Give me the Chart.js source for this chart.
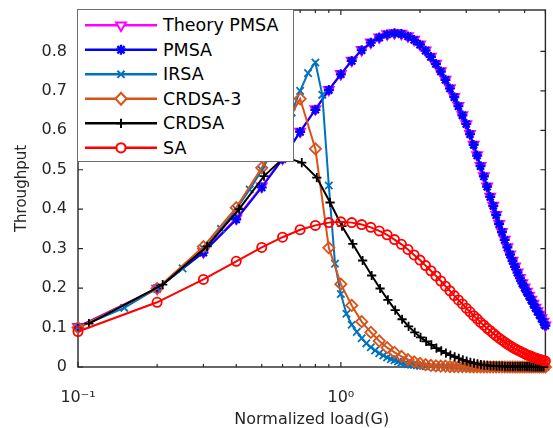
<!DOCTYPE html>
<html>
<head>
<meta charset="utf-8">
<script src="https://cdn.jsdelivr.net/npm/chart.js@4"></script>
<style>
html,body{margin:0;padding:0;background:#fff;}
#wrap{position:relative;width:553px;height:428px;overflow:hidden;}
#c{position:absolute;left:0;top:0;}
#legend{position:absolute;left:77px;top:9px;width:217px;height:153px;box-sizing:border-box;background:#fff;border:1px solid #6f6f6f;font-family:'DejaVu Sans',sans-serif;font-size:17.5px;color:#000;}
#legend svg{position:absolute;left:0;top:0;}
.lt{position:absolute;left:85px;height:24px;line-height:24px;white-space:nowrap;}
</style>
</head>
<body>
<div id="wrap">
<canvas id="c" width="553" height="428"></canvas>
<div id="legend"></div>
</div>
<script>
// ---------- data ----------
const seriesNames = ['Theory PMSA', 'PMSA', 'IRSA', 'CRDSA-3', 'CRDSA', 'SA'];

const G = [0.1,0.2,0.3,0.4,0.5,0.6,0.7,0.8,0.9,1.0,
           1.1,1.2,1.3,1.4,1.5,1.6,1.7,1.8,1.9,2.0,
           2.1,2.2,2.3,2.4,2.5,2.6,2.7,2.8,2.9,3.0,
           3.1,3.2,3.3,3.4,3.5,3.6,3.7,3.8,3.9,4.0,
           4.1,4.2,4.3,4.4,4.5,4.6,4.7,4.8,4.9,5.0,
           5.1,5.2,5.3,5.4,5.5,5.6,5.7,5.8,5.9,6.0];

const G_CRDSA = [0.11,0.21,0.31,0.41,0.51,0.61,0.71,0.81,0.91,1.01,
                 1.11,1.21,1.31,1.41,1.51,1.61,1.71,1.81,1.91,2.01,
                 2.11,2.21,2.31,2.41,2.51,2.61,2.71,2.81,2.91,3.01,
                 3.11,3.21,3.31,3.41,3.51,3.61,3.71,3.81,3.91,4.01,
                 4.11,4.21,4.31,4.41,4.51,4.61,4.71,4.81,4.91,5.01,
                 5.11,5.21,5.31,5.41,5.51,5.61,5.71,5.81,5.91];

const G_IRSA = [0.10,0.15,0.20,0.25,0.30,0.35,0.40,0.45,0.50,0.55,
                0.60,0.65,0.70,0.75,0.80,0.85,0.90,0.95,1.00,1.05,
                1.10,1.15,1.20,1.25,1.30,1.35,1.40,1.45,1.50,1.55,
                1.60,1.65,1.70,1.75,1.80,1.85,1.90,1.95,2.00,
                2.1,2.2,2.3,2.4,2.5,2.6,2.7,2.8,2.9,3.0,
                3.1,3.2,3.3,3.4,3.5,3.6,3.7,3.8,3.9,4.0,
                4.1,4.2,4.3,4.4,4.5,4.6,4.7,4.8,4.9,5.0,
                5.1,5.2,5.3,5.4,5.5,5.6,5.7,5.8,5.9,6.0];

const theoryPMSA = [0.102,0.199,0.292,0.377,0.458,0.529,0.597,0.654,0.703,0.743,
                    0.777,0.804,0.823,0.836,0.844,0.847,0.845,0.839,0.830,0.818,
                    0.803,0.787,0.769,0.750,0.729,0.707,0.685,0.662,0.639,0.616,
                    0.591,0.564,0.537,0.510,0.484,0.458,0.432,0.409,0.386,0.363,
                    0.343,0.323,0.304,0.286,0.270,0.255,0.240,0.226,0.213,0.202,
                    0.191,0.181,0.171,0.161,0.151,0.142,0.133,0.124,0.115,0.106];

const pmsa = [0.101,0.198,0.290,0.374,0.455,0.527,0.596,0.652,0.702,0.742,
              0.776,0.803,0.822,0.835,0.843,0.846,0.844,0.838,0.829,0.817,
              0.802,0.786,0.768,0.749,0.728,0.706,0.684,0.661,0.638,0.616,
              0.590,0.563,0.536,0.509,0.483,0.457,0.431,0.408,0.385,0.362,
              0.342,0.322,0.303,0.285,0.269,0.254,0.239,0.225,0.212,0.201,
              0.190,0.180,0.170,0.160,0.150,0.141,0.132,0.123,0.114,0.105];

const irsa = [0.100,0.150,0.200,0.250,0.300,0.350,0.400,0.450,0.499,0.548,
              0.596,0.645,0.700,0.745,0.772,0.690,0.460,0.262,0.185,0.135,
              0.107,0.089,0.073,0.060,0.050,0.042,0.035,0.029,0.024,0.020,
              0.017,0.014,0.011,0.009,0.007,0.006,0.005,0.004,0.003,
              0.002,0.002,0.001,0.001,0.001,0.000,0.000,0.000,0.000,0.000,
              0.000,0.000,0.000,0.000,0.000,0.000,0.000,0.000,0.000,0.000,
              0.000,0.000,0.000,0.000,0.000,0.000,0.000,0.000,0.000,0.000,
              0.000,0.000,0.000,0.000,0.000,0.000,0.000,0.000,0.000,0.000];

const crdsa3 = [0.100,0.199,0.305,0.404,0.505,0.600,0.680,0.553,0.302,0.210,
                0.156,0.115,0.088,0.066,0.049,0.037,0.027,0.019,0.013,0.009,
                0.006,0.004,0.003,0.002,0.002,0.001,0.001,0.001,0.001,0.001,
                0.000,0.000,0.000,0.000,0.000,0.000,0.000,0.000,0.000,0.000,
                0.000,0.000,0.000,0.000,0.000,0.000,0.000,0.000,0.000,0.000,
                0.000,0.000,0.000,0.000,0.000,0.000,0.000,0.000,0.000,0.000];

const crdsa = [0.110,0.209,0.306,0.400,0.484,0.532,0.518,0.480,0.417,0.357,
               0.312,0.270,0.232,0.199,0.170,0.144,0.121,0.103,0.088,0.075,
               0.065,0.056,0.048,0.041,0.035,0.030,0.026,0.022,0.018,0.015,
               0.012,0.010,0.008,0.006,0.005,0.004,0.003,0.003,0.002,0.002,
               0.002,0.001,0.001,0.001,0.001,0.001,0.001,0.001,0.001,0.001,
               0.001,0.001,0.000,0.000,0.000,0.000,0.000,0.000,0.000];

const sa = [0.090,0.164,0.222,0.268,0.303,0.329,0.348,0.359,0.366,0.368,
            0.366,0.361,0.354,0.345,0.335,0.323,0.311,0.298,0.284,0.271,
            0.257,0.244,0.231,0.218,0.205,0.193,0.181,0.170,0.160,0.149,
            0.140,0.130,0.122,0.113,0.106,0.098,0.092,0.085,0.079,0.073,
            0.068,0.063,0.058,0.054,0.050,0.046,0.043,0.040,0.037,0.034,
            0.031,0.029,0.027,0.024,0.023,0.021,0.019,0.018,0.016,0.015];

const xTickValues = [0.1,0.2,0.3,0.4,0.5,0.6,0.7,0.8,0.9,1,2,3,4,5,6];
const xTickLabels = ['10\u207B\u00B9','','','','','','','','','10\u2070','','','','',''];
const yTickValues = [0,0.1,0.2,0.3,0.4,0.5,0.6,0.7,0.8];
const yTickLabels = ['0','0.1','0.2','0.3','0.4','0.5','0.6','0.7','0.8'];

// ---------- styles ----------
const AX = '#262626';
const colors = ['#FF00FF', '#0000FF', '#0072BD', '#D95319', '#000000', '#FF0000'];
const markers = ['triangle', 'star', 'crossRot', 'rectRot', 'cross', 'circle'];
const radii = [5.8, 5, 5.2, 5.6, 4.6, 4.6];
const xsets = [G, G, G_IRSA, G, G_CRDSA, G];
const ysets = [theoryPMSA, pmsa, irsa, crdsa3, crdsa, sa];

function pts(xs, ys) { return xs.map((g, i) => ({x: g, y: ys[i]})); }

const datasets = seriesNames.map((name, i) => ({
  label: name,
  data: pts(xsets[i], ysets[i]),
  borderColor: colors[i],
  backgroundColor: colors[i],
  borderWidth: 2,
  pointStyle: markers[i],
  pointRadius: radii[i],
  pointRotation: markers[i] === 'triangle' ? 180 : 0,
  pointBorderColor: colors[i],
  pointBackgroundColor: 'rgba(255,255,255,0)',
  pointBorderWidth: (i === 1) ? 2.2 : 1.8,
  tension: 0,
  clip: false,
  order: 6 - i
}));

const axisBox = {
  id: 'axisBox',
  beforeDatasetsDraw(chart) {
    const {ctx, chartArea: a, scales: {x, y}} = chart;
    ctx.save();
    ctx.strokeStyle = AX;
    ctx.lineWidth = 1.4;
    ctx.strokeRect(a.left, a.top, a.right - a.left, a.bottom - a.top);
    ctx.lineWidth = 1.2;
    ctx.beginPath();
    xTickValues.forEach(v => {
      const px = x.getPixelForValue(v);
      const len = (v === 0.1 || v === 1) ? 5 : 3;
      ctx.moveTo(px, a.bottom); ctx.lineTo(px, a.bottom - len);
      ctx.moveTo(px, a.top); ctx.lineTo(px, a.top + len);
    });
    yTickValues.forEach(v => {
      const py = y.getPixelForValue(v);
      ctx.moveTo(a.left, py); ctx.lineTo(a.left + 5, py);
      ctx.moveTo(a.right, py); ctx.lineTo(a.right - 5, py);
    });
    ctx.stroke();
    ctx.restore();
  }
};

function zeroPad(s) { s.paddingTop = 0; s.paddingBottom = 0; s.paddingLeft = 0; s.paddingRight = 0; }

Chart.defaults.font.family = "'DejaVu Sans', sans-serif";
Chart.defaults.color = AX;

new Chart(document.getElementById('c'), {
  type: 'line',
  data: {datasets},
  options: {
    responsive: false,
    animation: false,
    devicePixelRatio: 1,
    layout: {padding: {top: 10, right: 7, left: 0, bottom: 0}},
    plugins: {legend: {display: false}, tooltip: {enabled: false}},
    scales: {
      x: {
        type: 'logarithmic',
        min: 0.1,
        max: 6,
        afterBuildTicks: s => { s.ticks = xTickValues.map(v => ({value: v})); },
        afterFit: s => { s.height = 61; zeroPad(s); },
        ticks: {autoSkip: false, maxRotation: 0, minRotation: 0, padding: 21, color: AX,
                font: {size: 16}, callback: (v, i) => xTickLabels[i]},
        grid: {display: false, drawTicks: false},
        border: {display: false},
        title: {display: true, text: 'Normalized load(G)', color: AX, font: {size: 16, lineHeight: 1.0},
                padding: {top: 0, bottom: 0}}
      },
      y: {
        min: 0,
        max: 0.905,
        afterBuildTicks: s => { s.ticks = yTickValues.map(v => ({value: v})); },
        afterFit: s => { s.width = 78; zeroPad(s); },
        ticks: {padding: 11, color: AX, font: {size: 16}, callback: (v, i) => yTickLabels[i]},
        grid: {display: false, drawTicks: false},
        border: {display: false},
        title: {display: true, text: 'Throughput', color: AX, font: {size: 15},
                padding: {top: 13, bottom: 0}}
      }
    }
  },
  plugins: [axisBox]
});

// ---------- legend (HTML overlay, MATLAB style) ----------
(function buildLegend() {
  const lg = document.getElementById('legend');
  const NS = 'http://www.w3.org/2000/svg';
  const svg = document.createElementNS(NS, 'svg');
  svg.setAttribute('width', '217'); svg.setAttribute('height', '153');
  lg.appendChild(svg);
  const rowTop = 15.3, rowGap = 24.5, x0 = 7, x1 = 79, mx = 43;
  function el(tag, attrs) {
    const e = document.createElementNS(NS, tag);
    for (const k in attrs) e.setAttribute(k, attrs[k]);
    svg.appendChild(e);
    return e;
  }
  seriesNames.forEach((name, i) => {
    const cy = rowTop + rowGap * i;
    const c = colors[i];
    el('line', {x1: x0, y1: cy, x2: x1, y2: cy, stroke: c, 'stroke-width': 2.5});
    const sw = 2;
    const m = markers[i];
    if (m === 'triangle') {
      el('polygon', {points: `${mx-5},${cy-2.9} ${mx+5},${cy-2.9} ${mx},${cy+5.8}`, fill: 'white', stroke: c, 'stroke-width': sw});
    } else if (m === 'star') {
      const r = 5, d = 3.6;
      el('path', {d: `M${mx-r},${cy}H${mx+r}M${mx},${cy-r}V${cy+r}M${mx-d},${cy-d}L${mx+d},${cy+d}M${mx-d},${cy+d}L${mx+d},${cy-d}`, stroke: c, 'stroke-width': 2.4});
    } else if (m === 'crossRot') {
      const d = 3.6;
      el('path', {d: `M${mx-d},${cy-d}L${mx+d},${cy+d}M${mx-d},${cy+d}L${mx+d},${cy-d}`, stroke: c, 'stroke-width': sw});
    } else if (m === 'rectRot') {
      el('polygon', {points: `${mx},${cy-6} ${mx+5.5},${cy} ${mx},${cy+6} ${mx-5.5},${cy}`, fill: 'white', stroke: c, 'stroke-width': sw});
    } else if (m === 'cross') {
      el('path', {d: `M${mx-4.6},${cy}H${mx+4.6}M${mx},${cy-4.6}V${cy+4.6}`, stroke: c, 'stroke-width': sw});
    } else {
      el('circle', {cx: mx, cy: cy, r: 4.6, fill: 'white', stroke: c, 'stroke-width': sw});
    }
    const t = document.createElement('div');
    t.className = 'lt';
    t.style.top = (cy - 12) + 'px';
    t.textContent = name;
    lg.appendChild(t);
  });
})();
</script>
</body>
</html>
